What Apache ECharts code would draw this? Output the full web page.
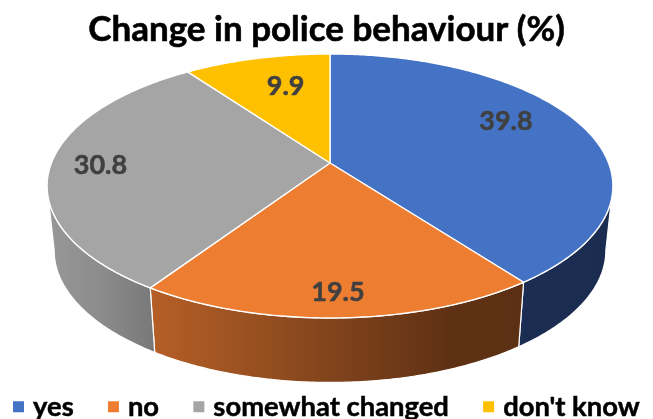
<!DOCTYPE html>
<html><head><meta charset="utf-8">
<style>html,body{margin:0;padding:0;background:#fff}#c{width:653px;height:419px}</style>
<script src="https://cdn.jsdelivr.net/npm/echarts@6/dist/echarts.min.js"></script>
</head><body><div id="c"></div>
<script>
const titleText = 'Change in police behaviour (%)';
const categories = ['yes', 'no', 'somewhat changed', "don't know"];
const values = [39.8, 19.5, 30.8, 9.9];
const topColors = ['#4472C4', '#ED7D31', '#A5A5A5', '#FFC000'];
const FONT = 'Lato, Carlito, sans-serif';

// perspective projection of the pie disc
const P = {cx: 330, cy: 163, A: 278.6, B: 128, k: 0.174, depth: 64.5, baseX: 0.975};
const total = values.reduce((a, b) => a + b, 0);
const starts = [];
values.reduce((acc, v, i) => { starts[i] = acc; return acc + v; }, 0);
const toDeg = v => v / total * 360;

function proj(deg, r, lower) {
  const t = deg * Math.PI / 180;
  const u = Math.sin(t) * r, v = -Math.cos(t) * r, den = 1 - P.k * v;
  const sx = lower ? P.baseX : 1;
  return [P.cx + sx * P.A * u / den, P.cy + (lower ? P.depth : 0) + P.B * v / den];
}
function arc(a0, a1, lower) {
  const n = Math.max(2, Math.ceil(Math.abs(a1 - a0) * 1.5)), pts = [];
  for (let i = 0; i <= n; i++) pts.push(proj(a0 + (a1 - a0) * i / n, 1, lower));
  return pts;
}
// the rim is visible from the right-most to the left-most point of the disc
const RIM_FROM = 100, RIM_TO = 260;
const sideFill = [
  {x: 0, stops: [[0, '#1b2d52'], [1, '#1a2c50']]},
  {x: 1, stops: [[0, '#b65f27'], [0.3, '#964f20'], [0.55, '#7a3f1a'], [0.8, '#5f3114'], [1, '#5c3014']]},
  {x: 1, stops: [[0, '#989898'], [0.5, '#8c8c8c'], [1, '#787878']]},
  {x: 1, stops: [[0, '#a68000'], [1, '#a68000']]}
];
// where Excel put each data label: fraction of radius, shift from the mid-angle
const labelR = [0.754, 0.857, 0.822, 0.695], labelShift = [-9, 0, 0, 3];

function renderSlice(i) {
  return function (params, api) {
    const value = api.value(0);
    const a0 = toDeg(starts[i]), a1 = a0 + toDeg(value);
    const kids = [];
    const s0 = Math.max(a0, RIM_FROM), s1 = Math.min(a1, RIM_TO);
    if (s1 > s0) {
      const pts = arc(s0, s1, false).concat(arc(s0, s1, true).reverse());
      const f = sideFill[i];
      kids.push({type: 'polygon', z2: 1, shape: {points: pts}, style: {
        fill: {type: 'linear', x: 0, y: 0, x2: 1, y2: 0, colorStops: f.stops.map(s => ({offset: s[0], color: s[1]}))},
        stroke: '#fff', lineWidth: 1.2, lineJoin: 'round'}});
    }
    const top = [[P.cx, P.cy]].concat(arc(a0, a1, false));
    kids.push({type: 'polygon', z2: 2, shape: {points: top}, style: {
      fill: topColors[i], stroke: '#fff', lineWidth: 1.4, lineJoin: 'round'}});
    const lp = proj((a0 + a1) / 2 + labelShift[i], labelR[i], false);
    kids.push({type: 'text', z2: 3, x: lp[0], y: lp[1], style: {
      text: String(value), fill: '#404040', font: 'bold 27px ' + FONT, align: 'center', verticalAlign: 'middle',
      stroke: '#404040', lineWidth: 0.5}});
    return {type: 'group', children: kids};
  };
}

const chart = echarts.init(document.getElementById('c'), null, {renderer: 'canvas'});
chart.setOption({
  animation: false,
  backgroundColor: '#fff',
  color: topColors,
  title: {text: titleText, left: 'center', top: 7, textStyle: {fontFamily: FONT, fontWeight: 'bold', fontSize: 35, color: '#000',
    textBorderColor: '#000', textBorderWidth: 0.6}},
  legend: {
    data: categories, left: 13, top: 393, itemWidth: 11, itemHeight: 11, itemGap: 34, icon: 'rect',
    padding: 0, selectedMode: false,
    textStyle: {fontFamily: FONT, fontWeight: 'bold', fontSize: 27.4, color: '#000', padding: [0, 0, 0, 4],
      textBorderColor: '#000', textBorderWidth: 0.5}
  },
  series: categories.map((name, i) => ({
    type: 'custom', name, coordinateSystem: 'none',
    itemStyle: {color: topColors[i]},
    renderItem: renderSlice(i), data: [[values[i]]], silent: true
  }))
});
</script></body></html>
